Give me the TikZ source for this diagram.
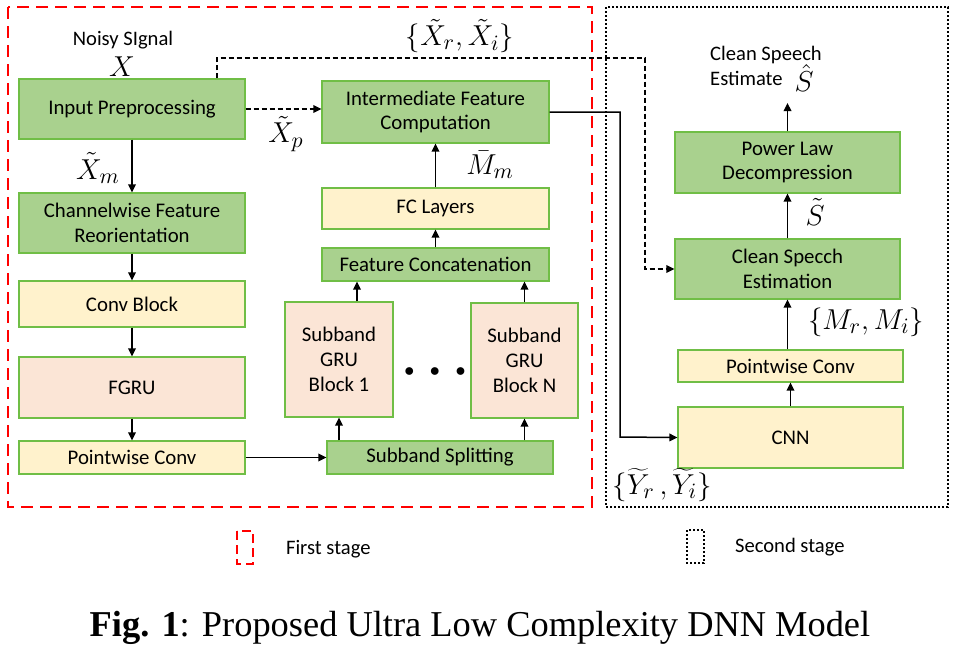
\documentclass[tikz,border=0pt]{standalone}
\usepackage{fontspec}
\setmainfont{Carlito}
\newfontfamily\capfont{Liberation Serif}
\usetikzlibrary{arrows.meta}
\definecolor{boxgreen}{RGB}{169,209,142}
\definecolor{boxyellow}{RGB}{255,242,204}
\definecolor{boxpeach}{RGB}{251,229,214}
\definecolor{edgegreen}{RGB}{112,190,70}
\begin{document}
\begin{tikzpicture}[x=0.5pt,y=-0.5pt,
  blk/.style={draw=edgegreen,line width=0.6pt,align=center,inner sep=1pt,
    font=\fontsize{10.4}{12.4}\selectfont},
  grn/.style={blk,fill=boxgreen},
  ylw/.style={blk,fill=boxyellow},
  pch/.style={blk,fill=boxpeach},
  arr/.style={-{Triangle[length=4pt,width=3.8pt]},line width=0.75pt},
  darr/.style={arr,dash pattern=on 2.5pt off 1.5pt},
  lbl/.style={font=\fontsize{15}{17}\selectfont},
  txt/.style={font=\fontsize{10.3}{12.6}\selectfont,align=left}]
\useasboundingbox (0,0) rectangle (956,650);
%\draw [help lines,step=50] (0,0) grid (956,650);
% stage frames
\draw [red,line width=1.3pt,dash pattern=on 6pt off 3.5pt] (8,7) rectangle (592,507);
\draw [line width=1pt,dash pattern=on 1pt off 1pt] (606,7) rectangle (948,507);
% first stage, left column
\node [txt] (noisy) at (123,40) {Noisy SIgnal};
\node [lbl] (x) at (122,67) {$X$};
\node [grn,minimum width=113pt,minimum height=30pt] (inp) at (132,109) {Input Preprocessing};
\node [grn,minimum width=113pt,minimum height=30pt] (chan) at (132,223) {Channelwise Feature\\Reorientation};
\node [ylw,minimum width=113pt,minimum height=23pt] (conv) at (132,304) {Conv Block};
\node [pch,minimum width=113pt,minimum height=30.5pt] (fgru) at (132,387.5) {FGRU};
\node [ylw,minimum width=113pt,minimum height=16.5pt] (pwa) at (132,457.5) {Pointwise Conv};
% first stage, right column
\node [grn,minimum width=113.5pt,minimum height=31pt] (ifc) at (435.5,112) {Intermediate Feature\\Computation};
\node [ylw,minimum width=113.5pt,minimum height=20.5pt] (fc) at (435.5,208.5) {FC Layers};
\node [grn,minimum width=113.5pt,minimum height=16.5pt] (cat) at (435.5,264.5) {Feature Concatenation};
\node [pch,minimum width=54pt,minimum height=57.5pt] (sba) at (339,359.5) {Subband\\GRU\\Block 1};
\node [pch,minimum width=53.5pt,minimum height=57.5pt] (sbn) at (524.5,360.5) {Subband\\GRU\\Block N};
\node (dots) at (435,372) {$\bullet\;\;\bullet\;\;\bullet$};
\node [grn,minimum width=113pt,minimum height=16.5pt] (split) at (440,457.5) {Subband Splitting};
% second stage
\node [txt] (est) at (766,66) {Clean Speech\\Estimate};
\node [lbl] (shat) at (804,78) {$\hat{S}$};
\node [grn,minimum width=112.5pt,minimum height=30.5pt] (pld) at (787.5,162.5) {Power Law\\Decompression};
\node [grn,minimum width=112.5pt,minimum height=30pt] (cse) at (787.5,269) {Clean Specch\\Estimation};
\node [ylw,minimum width=112.5pt,minimum height=16pt] (pwb) at (790.5,366) {Pointwise Conv};
\node [ylw,minimum width=112.5pt,minimum height=30.5pt] (cnn) at (790.5,437.5) {CNN};
\coordinate (out) at (787.5,103);
\coordinate (xri) at (645,58);
\coordinate (yri) at (620,437);
\coordinate (sbatop) at ([xshift=9pt]sba.north);
\coordinate (pwbtop) at ([xshift=-1.5pt]pwb.north);
% connectors
\draw [arr] (inp) -- (chan);
\draw [arr] (chan) -- (conv);
\draw [arr] (conv) -- (fgru);
\draw [arr] (fgru) -- (pwa);
\draw [arr] (pwa) -- (split);
\draw [arr] (split.north -| sba) -- (sba);
\draw [arr] (split.north -| sbn) -- (sbn);
\draw [arr] (sbatop) -- (cat.south -| sbatop);
\draw [arr] (sbn) -- (cat.south -| sbn);
\draw [arr] (cat) -- (fc);
\draw [arr] (fc) -- (ifc);
\draw [darr] (inp.east) -- (inp.east -| ifc.west);
\draw [darr] ([xshift=42.5pt]inp.north) |- (xri) |- (cse.west);
\draw [arr] (ifc.east) -| (yri) -- (cnn.west);
\draw [arr] (cnn.north -| pwb) -- (pwb);
\draw [arr] (pwbtop) -- (pwbtop |- cse.south);
\draw [arr] (cse) -- (pld);
\draw [arr] (pld) -- (out);
% signal labels
\node [lbl] (xm) at (98,168) {$\tilde{X}_m$};
\node [lbl] (xp) at (286,134) {$\tilde{X}_p$};
\node [lbl] (xrxi) at (460,36) {$\{\tilde{X}_r,\tilde{X}_i\}$};
\node [lbl] (mm) at (490,165) {$\bar{M}_m$};
\node [lbl] (yryi) at (662,485) {$\{\widetilde{Y}_r\,,\widetilde{Y}_i\}$};
\node [lbl] (mrmi) at (866,322) {$\{M_r,M_i\}$};
\node [lbl] (st) at (815,212) {$\tilde{S}$};
% legend
\draw [red,line width=1.3pt,dash pattern=on 4.5pt off 2.5pt] (237,531) rectangle (253,564);
\node [txt,anchor=west] (first) at (279,549) {First stage};
\draw [line width=1pt,dash pattern=on 1pt off 1pt] (687,530) rectangle (704,563);
\node [txt,anchor=west] (second) at (728,547) {Second stage};
% caption
\node [font=\capfont\fontsize{18.2}{21}\selectfont] (cap) at (480,628) {\textbf{Fig. 1}: Proposed Ultra Low Complexity DNN Model};
\end{tikzpicture}
\end{document}
